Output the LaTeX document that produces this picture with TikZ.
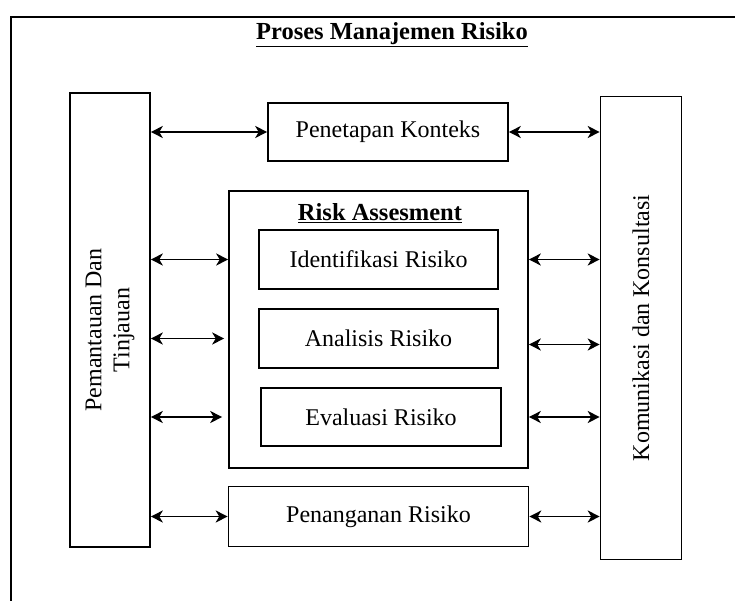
\documentclass[tikz,border=0pt]{standalone}
\usepackage{fontspec}
\setmainfont{Liberation Serif}
\usetikzlibrary{arrows.meta}

\begin{document}
\begin{tikzpicture}[
    x=1pt, y=-1pt,
    % ── node styles ─────────────────────────────────────────
    box/.style = { draw, line width=1.6pt, inner sep=0pt, align=center,
            font=\fontsize{24}{28}\selectfont, },
    sidebox/.style = { box, minimum width=80pt, },
    heading/.style = { font=\fontsize{24.5}{28}\selectfont\bfseries, inner sep=0pt, },
    link/.style = { {Stealth[length=12pt, width=12pt, inset=3.5pt]}-{Stealth[length=12pt,
                    width=12pt, inset=3.5pt]}, line width=1.6pt, },
    frame/.style = { line width=1.6pt, },
    ]

    \useasboundingbox (0,0) rectangle (735,601);

    % ============================================================
    % FRAME + TITLE
    % ============================================================
    \coordinate (frame-bl) at (11,601);
    \coordinate (frame-tl) at (11,17);
    \coordinate (frame-tr) at (735,17);
    \draw[frame] (frame-bl) -- (frame-tl) -- (frame-tr);

    \node[heading] (title) at (392,35) {\underline{Proses Manajemen Risiko}};

    % ============================================================
    % SIDE COLUMNS
    % ============================================================
    \node[sidebox, minimum height=454pt] (pemantauan) at (110,320) {};
    \node[font=\fontsize{24}{28}\selectfont, align=center, rotate=90]
    (pemantauan-text) at ([yshift=-10pt]pemantauan.center) {Pemantauan Dan\\Tinjauan};

    \node[sidebox, minimum width=81pt, minimum height=463pt] (komunikasi) at (641,328) {};
    \node[font=\fontsize{24}{28}\selectfont, rotate=90]
    (komunikasi-text) at (komunikasi.center) {Komunikasi dan Konsultasi};

    % ============================================================
    % MIDDLE COLUMN
    % ============================================================
    \node[box, minimum width=240pt, minimum height=58pt] (penetapan) at (388,132)
    {Penetapan Konteks};

    \node[box, minimum width=299pt, minimum height=277pt] (risk) at (378.5,329.5) {};
    \node[heading] (risk-title) at (380,213) {\underline{Risk Assesment}};

    \node[box, minimum width=239pt, minimum height=59pt] (identifikasi) at (378.5,259.5)
    {Identifikasi Risiko};
    \node[box, minimum width=239pt, minimum height=59pt] (analisis) at (378.5,338.5)
    {Analisis Risiko};
    \node[box, minimum width=240pt, minimum height=58pt] (evaluasi) at (381,417)
    {Evaluasi Risiko};

    \node[box, minimum width=300pt, minimum height=60pt] (penanganan) at (378.5,516.5)
    {Penanganan Risiko};

    % ============================================================
    % ARROWS — left side
    % ============================================================
    \draw[link] (pemantauan.east |- penetapan) -- (penetapan.west);
    \draw[link] (pemantauan.east |- identifikasi) -- (risk.west |- identifikasi);
    \draw[link, shorten >=4pt] (pemantauan.east |- analisis) -- (risk.west |- analisis);
    \draw[link, shorten >=6pt] (pemantauan.east |- evaluasi) -- (risk.west |- evaluasi);
    \draw[link] (pemantauan.east |- penanganan) -- (penanganan.west);

    % ============================================================
    % ARROWS — right side
    % ============================================================
    \draw[link] (penetapan.east) -- (komunikasi.west |- penetapan);
    \draw[link] (risk.east |- identifikasi) -- (komunikasi.west |- identifikasi);
    \draw[link] ([yshift=-6pt]risk.east |- analisis) -- ([yshift=-6pt]komunikasi.west |- analisis);
    \draw[link] (risk.east |- evaluasi) -- (komunikasi.west |- evaluasi);
    \draw[link] (penanganan.east) -- (komunikasi.west |- penanganan);

\end{tikzpicture}
\end{document}
